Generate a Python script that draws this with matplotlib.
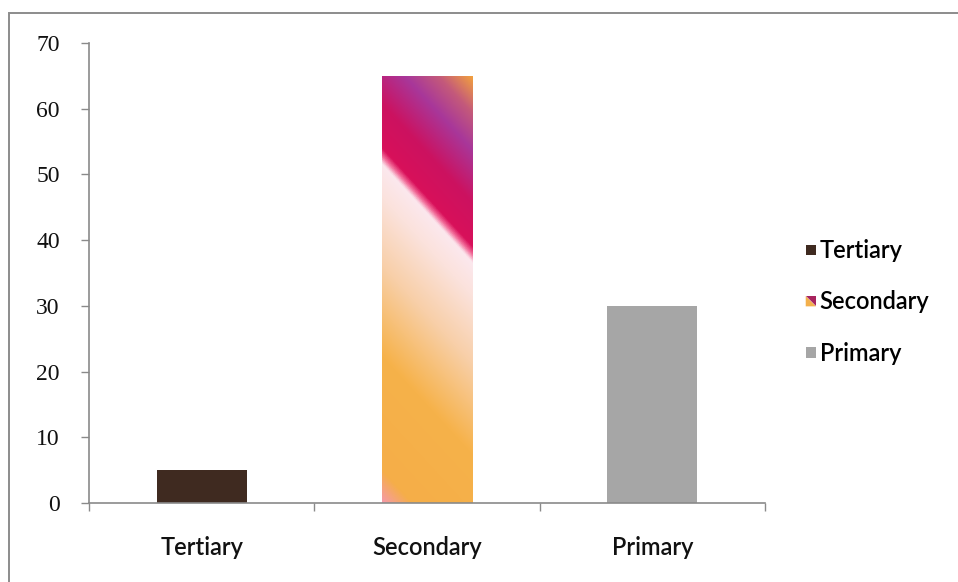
import numpy as np
import matplotlib
matplotlib.use("Agg")
import matplotlib.pyplot as plt
from matplotlib.colors import LinearSegmentedColormap
from matplotlib.patches import Rectangle, Polygon
from matplotlib.legend_handler import HandlerBase

# 数据
categories = ["Tertiary", "Secondary", "Primary"]
values = [5, 65, 30]
y_ticks = [0, 10, 20, 30, 40, 50, 60, 70]

TERTIARY_COLOR = "#3f2a20"
PRIMARY_COLOR = "#a6a6a6"
AXIS_COLOR = "#8a8a8a"

# Secondary 柱的斜向渐变(沿 g = y + 15*u 取色)
GRAD_STOPS = [
    (0.00, "#f59aa8"),
    (0.06, "#f5ae48"),
    (0.28, "#f6b24a"),
    (0.45, "#f8cfa8"),
    (0.58, "#fbe2dc"),
    (0.645, "#fce8ee"),
    (0.66, "#f26a98"),
    (0.675, "#d8105a"),
    (0.76, "#cc1260"),
    (0.86, "#a8379a"),
    (0.93, "#c45a7a"),
    (1.00, "#f2a13e"),
]
grad_cmap = LinearSegmentedColormap.from_list("secondary", GRAD_STOPS)
G_SPAN = 15.0

plt.rcParams["font.family"] = ["Lato", "DejaVu Sans"]

fig = plt.figure(figsize=(9.58, 5.82), dpi=100)
# 外框
fig.patches.append(Rectangle((9 / 958, -0.05), 1.1, 1 - 13 / 582 + 0.05,
                             transform=fig.transFigure, fill=False,
                             edgecolor="#8c8c8c", linewidth=1.4))

ax = fig.add_axes([89 / 958, 79 / 582, 676 / 958, 460 / 582])
x = np.arange(len(categories))
w = 0.4

bars = ax.bar(x, values, w, color=[TERTIARY_COLOR, "none", PRIMARY_COLOR],
              edgecolor="none", zorder=2)

# 渐变填充
sec = bars[1]
x0, bh = sec.get_x(), sec.get_height()
nu, nv = 200, 600
u = np.linspace(0, 1, nu)
yy = np.linspace(0, bh, nv)
U, Y = np.meshgrid(u, yy)
G = (Y + G_SPAN * U) / (bh + G_SPAN)
img = ax.imshow(G, cmap=grad_cmap, vmin=0, vmax=1, origin="lower",
                extent=(x0, x0 + w, 0, bh), aspect="auto",
                interpolation="bilinear", zorder=2)
img.set_clip_path(sec)

ax.set_xlim(-0.5, len(categories) - 0.5)
ax.set_ylim(0, 70)
ax.set_yticks(y_ticks)
ax.set_yticklabels([str(t) for t in y_ticks], family="Liberation Serif",
                   fontsize=17, color="#111111")
ax.set_xticks(x)
ax.set_xticklabels(categories, fontsize=17, color="#111111",
                   fontweight="semibold")
ax.set_xticks(np.arange(-0.5, len(categories)), minor=True)
ax.tick_params(axis="x", which="major", length=0, pad=24)
ax.tick_params(axis="x", which="minor", length=6, width=1, color=AXIS_COLOR,
               direction="out")
ax.tick_params(axis="y", length=6, width=1, color=AXIS_COLOR, direction="out",
               pad=15)
for side in ("top", "right"):
    ax.spines[side].set_visible(False)
for side in ("left", "bottom"):
    ax.spines[side].set_color(AXIS_COLOR)
    ax.spines[side].set_linewidth(1.2)


class SplitHandler(HandlerBase):
    """图例小方块:对角分成两色。"""

    def create_artists(self, legend, orig_handle, xdescent, ydescent,
                       width, height, fontsize, trans):
        s = height * 0.62
        x0 = width - s
        y0 = (height - s) / 2 - ydescent
        lo = Polygon([(x0, y0), (x0 + s, y0), (x0, y0 + s)],
                     facecolor="#f3b04c", edgecolor="none", transform=trans)
        hi = Polygon([(x0 + s, y0), (x0 + s, y0 + s), (x0, y0 + s)],
                     facecolor="#a8245e", edgecolor="none", transform=trans)
        return [lo, hi]


class SquareHandler(HandlerBase):
    def create_artists(self, legend, orig_handle, xdescent, ydescent,
                       width, height, fontsize, trans):
        s = height * 0.62
        r = Rectangle((width - s, (height - s) / 2 - ydescent), s, s,
                      facecolor=orig_handle.get_facecolor(), edgecolor="none",
                      transform=trans)
        return [r]


h_ter = Rectangle((0, 0), 1, 1, facecolor=TERTIARY_COLOR)
h_sec = Rectangle((0, 0), 1, 1, facecolor="#f3b04c")
h_pri = Rectangle((0, 0), 1, 1, facecolor=PRIMARY_COLOR)
fig.legend([h_ter, h_sec, h_pri], categories,
           handler_map={h_ter: SquareHandler(), h_sec: SplitHandler(),
                        h_pri: SquareHandler()},
           loc="center left", bbox_to_anchor=(790 / 958, 1 - 302 / 582),
           frameon=False, handlelength=0.7, handletextpad=0.15,
           labelspacing=1.2, borderaxespad=0,
           prop={"size": 17, "weight": "semibold"})

fig.savefig("out.png", dpi=100)
